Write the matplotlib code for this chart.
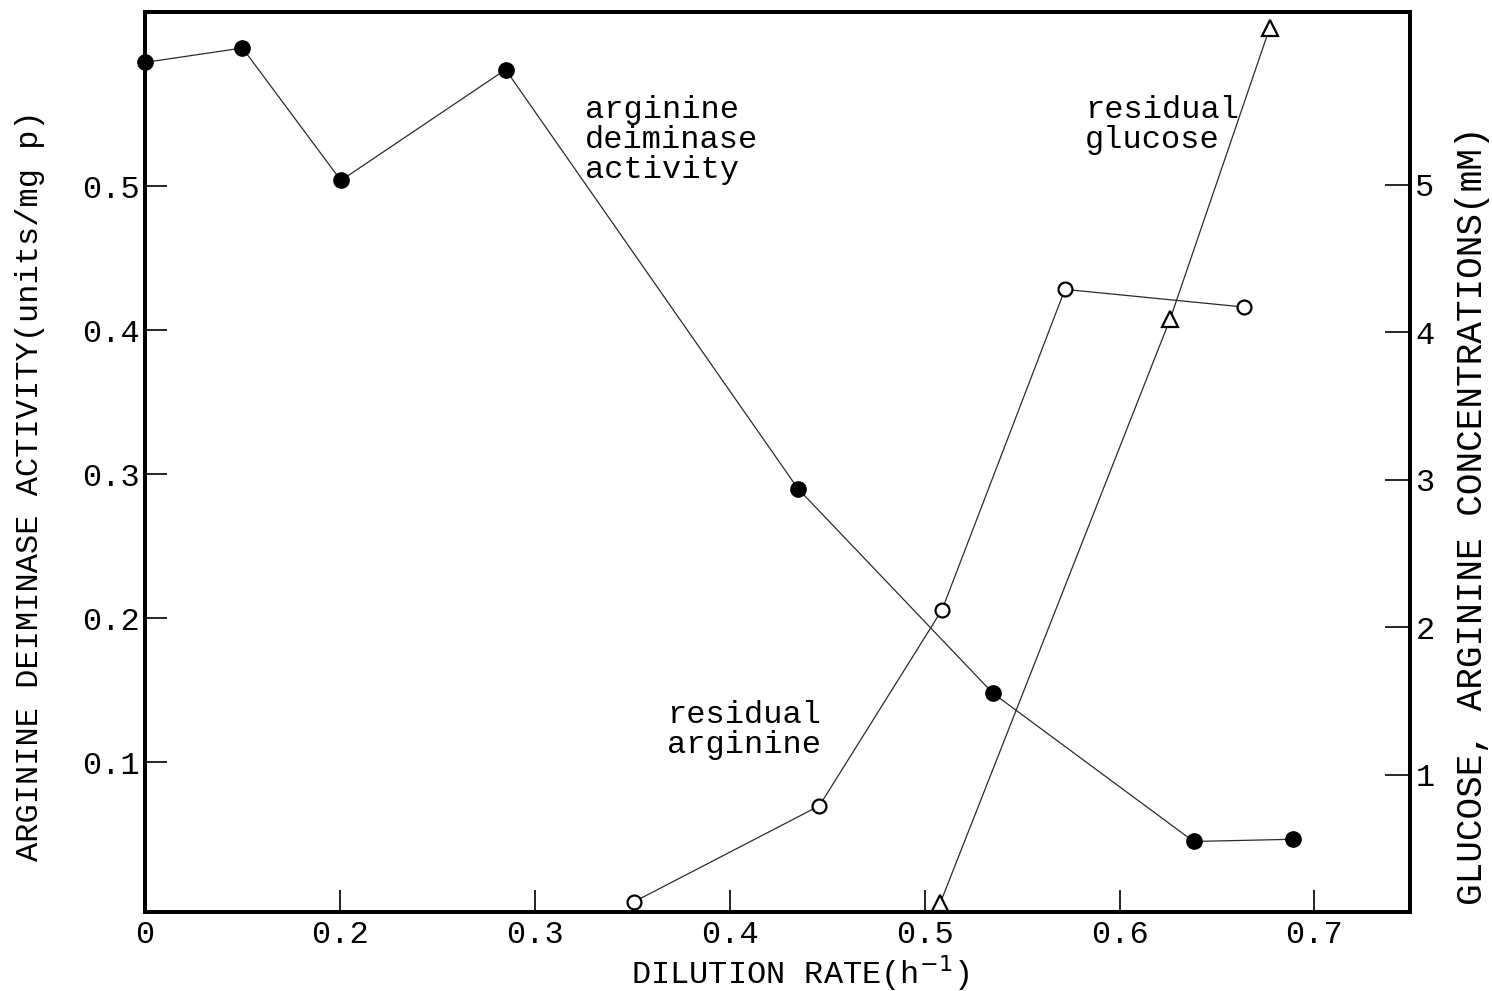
import matplotlib.pyplot as plt

plt.rcParams["font.family"] = ["Liberation Mono", "DejaVu Sans Mono"]

# arginine deiminase activity (left axis, units/mg protein)
adi_rate = [0.100, 0.150, 0.2005, 0.285, 0.435, 0.535, 0.638, 0.689]
adi_activity = [0.586, 0.596, 0.504, 0.581, 0.290, 0.148, 0.045, 0.0465]

# residual arginine (right axis, mM)
arg_rate = [0.351, 0.446, 0.509, 0.572, 0.664]
arg_conc = [0.14, 0.79, 2.12, 4.29, 4.17]

# residual glucose (right axis, mM)
glc_rate = [0.508, 0.626, 0.677]
glc_conc = [0.13, 4.09, 6.06]

x_ticks = [0.1, 0.2, 0.3, 0.4, 0.5, 0.6, 0.7]
x_tick_labels = ["0", "0.2", "0.3", "0.4", "0.5", "0.6", "0.7"]
left_ticks = [0.1, 0.2, 0.3, 0.4, 0.5]
right_ticks = [1, 2, 3, 4, 5]

FS = 23

fig = plt.figure(figsize=(14.92, 9.91), dpi=100)
ax = fig.add_axes([0.0972, 0.0797, 0.8478, 0.9082])
ax2 = ax.twinx()

line_kw = dict(color="#2a2a2a", linewidth=0.9, clip_on=False)
ax.plot(adi_rate, adi_activity, marker="o", markersize=11, markerfacecolor="black",
        markeredgecolor="black", **line_kw)
ax2.plot(arg_rate, arg_conc, marker="o", markersize=10, markerfacecolor="white",
         markeredgecolor="black", markeredgewidth=1.6, **line_kw)
ax2.plot(glc_rate, glc_conc, marker="^", markersize=11, markerfacecolor="white",
         markeredgecolor="black", markeredgewidth=1.6, **line_kw)

ax.set_xlim(0.1, 0.749)
ax.set_ylim(-0.004, 0.621)
ax2.set_ylim(0.07, 6.17)

ax.set_xticks(x_ticks)
ax.set_xticklabels(x_tick_labels)
ax.set_yticks(left_ticks)
ax.set_yticklabels([f"{v:.1f}" for v in left_ticks])
ax2.set_yticks(right_ticks)

ax.tick_params(axis="both", direction="in", length=16, width=1.2, labelsize=FS, pad=6)
ax.tick_params(axis="y", pad=4)
ax2.tick_params(axis="y", direction="in", length=18, width=1.2, labelsize=FS, pad=4)

for a in (ax, ax2):
    for s in a.spines.values():
        s.set_linewidth(2.8)

ax.set_xlabel("DILUTION RATE(h$^{-1}$)", fontsize=FS)
ax.xaxis.set_label_coords(0.518, -0.046)
ax.set_ylabel("ARGININE DEIMINASE ACTIVITY(units/mg p)", fontsize=FS)
ax.yaxis.set_label_coords(-0.079, 0.474)
ax2.set_ylabel("GLUCOSE, ARGININE CONCENTRATIONS(mM)", fontsize=26)
ax2.yaxis.set_label_coords(1.036, 0.44)

ax.text(0.348, 0.908, "arginine\ndeiminase\nactivity", transform=ax.transAxes,
        fontsize=FS, linespacing=1.0, va="top", ha="left")
ax.text(0.743, 0.908, "residual\nglucose", transform=ax.transAxes,
        fontsize=FS, linespacing=1.0, va="top", ha="left")
ax.text(0.413, 0.236, "residual\narginine", transform=ax.transAxes,
        fontsize=FS, linespacing=1.0, va="top", ha="left")

fig.savefig("out.png", dpi=100)
